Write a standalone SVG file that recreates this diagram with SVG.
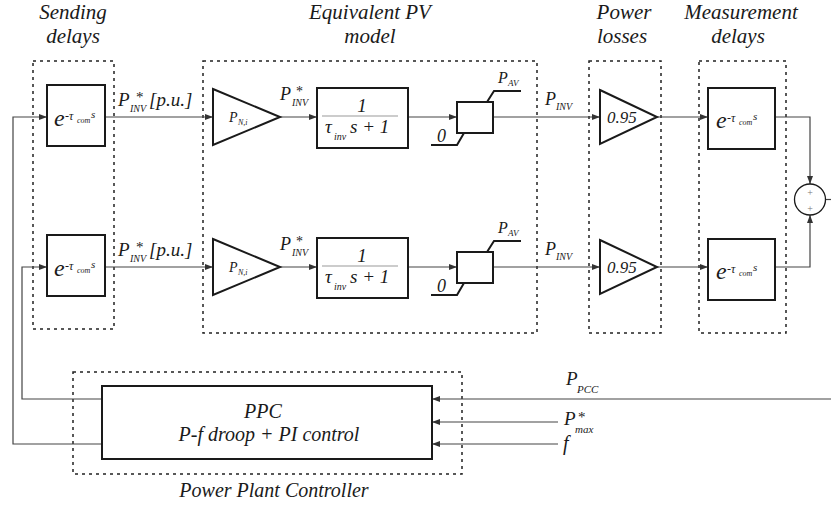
<svg xmlns="http://www.w3.org/2000/svg" width="831" height="512" viewBox="0 0 831 512" font-family="Liberation Serif, Times New Roman, serif">
<defs>
<marker id="arr" markerUnits="userSpaceOnUse" markerWidth="8" markerHeight="6" refX="8" refY="3" orient="auto">
<path d="M0,0 L8,3 L0,6 z" fill="#333"/>
</marker>
<style>
.blk{fill:#fff;stroke:#1a1a1a;stroke-width:2}
.grp{fill:none;stroke:#222;stroke-width:1.5;stroke-dasharray:3 4}
.wire{fill:none;stroke:#444;stroke-width:1.2}
.arw{marker-end:url(#arr)}
.frac{stroke:#999;stroke-width:1}
.t{font-style:italic;fill:#1a1a1a}
.up{font-style:normal;fill:#1a1a1a}
.ttl{font-size:21px;text-anchor:middle}
.pl{font-size:10px;fill:#777;text-anchor:middle}
</style>
</defs>
<rect width="831" height="512" fill="#fff"/>

<g id="groups">
<rect class="grp" x="33" y="61" width="81" height="268"/>
<rect class="grp" x="203" y="61" width="334" height="272"/>
<rect class="grp" x="589" y="61" width="72" height="272"/>
<rect class="grp" x="699" y="61" width="87" height="272"/>
<rect class="grp" x="73" y="372" width="389" height="102"/>
</g>

<g id="titles" class="t ttl" font-family="Liberation Serif, serif">
<text x="73" y="19">Sending</text>
<text x="73" y="43">delays</text>
<text x="370" y="19">Equivalent PV</text>
<text x="370" y="43">model</text>
<text x="624" y="19">Power</text>
<text x="622" y="43">losses</text>
<text x="741" y="19">Measurement</text>
<text x="738" y="43">delays</text>
<text x="274" y="497" font-size="20">Power Plant Controller</text>
</g>

<g id="connectors">
<path class="wire arw" d="M102,444 H13 V117 H47"/>
<path class="wire arw" d="M102,399 H22 V267 H47"/>
<path class="wire arw" d="M105,117 H213"/>
<path class="wire arw" d="M280,117 H317"/>
<path class="wire arw" d="M408,117 H457"/>
<path class="wire arw" d="M493,117 H600"/>
<path class="wire arw" d="M657,117 H708"/>
<path class="wire arw" d="M775,117 H810 V184"/>
<path class="wire arw" d="M105,267 H213"/>
<path class="wire arw" d="M280,267 H317"/>
<path class="wire arw" d="M408,267 H457"/>
<path class="wire arw" d="M493,267 H600"/>
<path class="wire arw" d="M657,267 H708"/>
<path class="wire arw" d="M775,267 H810 V215"/>
<path class="wire" d="M826,199.5 H831"/>
<path class="wire arw" d="M831,399 H432"/>
<path class="wire arw" d="M558,422 H432"/>
<path class="wire arw" d="M558,444 H432"/>
</g>

<g id="send1">
<rect class="blk" x="47" y="85" width="58" height="61"/>
<text class="t"><tspan x="54" y="126" font-size="24">e</tspan><tspan class="up" x="65" y="120" font-size="12">-</tspan><tspan x="69" y="120" font-size="12">τ</tspan><tspan x="77" y="123" font-size="8">com</tspan><tspan x="91" y="118" font-size="11">s</tspan></text>
</g>
<g id="send2">
<rect class="blk" x="47" y="235" width="58" height="61"/>
<text class="t"><tspan x="54" y="276" font-size="24">e</tspan><tspan class="up" x="65" y="270" font-size="12">-</tspan><tspan x="69" y="270" font-size="12">τ</tspan><tspan x="77" y="273" font-size="8">com</tspan><tspan x="91" y="268" font-size="11">s</tspan></text>
</g>

<g id="lbl-pu1" class="t">
<text><tspan x="118" y="106" font-size="19">P</tspan><tspan class="up" x="136" y="102" font-size="15">*</tspan><tspan x="130" y="112" font-size="10">INV</tspan><tspan x="149" y="106" font-size="19">[p.u.]</tspan></text>
</g>
<g id="lbl-pu2" class="t">
<text><tspan x="118" y="256" font-size="19">P</tspan><tspan class="up" x="136" y="252" font-size="15">*</tspan><tspan x="130" y="262" font-size="10">INV</tspan><tspan x="149" y="256" font-size="19">[p.u.]</tspan></text>
</g>

<g id="gain1">
<polygon class="blk" points="213,89 280,117 213,145"/>
<text class="t"><tspan x="229" y="122" font-size="14">P</tspan><tspan x="238" y="125" font-size="8">N,i</tspan></text>
</g>
<g id="gain2">
<polygon class="blk" points="213,239 280,267 213,295"/>
<text class="t"><tspan x="229" y="272" font-size="14">P</tspan><tspan x="238" y="275" font-size="8">N,i</tspan></text>
</g>

<g id="lbl-inv1" class="t">
<text><tspan x="280" y="100" font-size="18">P</tspan><tspan class="up" x="296" y="96" font-size="14">*</tspan><tspan x="292" y="106" font-size="10">INV</tspan></text>
</g>
<g id="lbl-inv2" class="t">
<text><tspan x="280" y="250" font-size="18">P</tspan><tspan class="up" x="296" y="246" font-size="14">*</tspan><tspan x="292" y="256" font-size="10">INV</tspan></text>
</g>

<g id="tf1">
<rect class="blk" x="317" y="88" width="91" height="60"/>
<line class="frac" x1="322" y1="116" x2="398" y2="116"/>
<text class="t" x="362" y="112" font-size="19" text-anchor="middle">1</text>
<text class="t"><tspan x="325" y="133" font-size="19">τ</tspan><tspan x="334" y="140" font-size="10">inv</tspan><tspan x="350" y="133" font-size="19">s + 1</tspan></text>
</g>
<g id="tf2">
<rect class="blk" x="317" y="238" width="91" height="60"/>
<line class="frac" x1="322" y1="266" x2="398" y2="266"/>
<text class="t" x="362" y="262" font-size="19" text-anchor="middle">1</text>
<text class="t"><tspan x="325" y="283" font-size="19">τ</tspan><tspan x="334" y="290" font-size="10">inv</tspan><tspan x="350" y="283" font-size="19">s + 1</tspan></text>
</g>

<g id="sat1">
<rect class="blk" x="457" y="102" width="36" height="31"/>
<polyline class="blk" style="fill:none" points="487,102 494,91 521,91"/>
<polyline class="blk" style="fill:none" points="464,133 457,145 431,145"/>
<text class="t"><tspan x="498" y="83" font-size="16">P</tspan><tspan x="508" y="86" font-size="9">AV</tspan></text>
<text class="t" x="437" y="142" font-size="18">0</text>
</g>
<g id="sat2">
<rect class="blk" x="457" y="252" width="36" height="31"/>
<polyline class="blk" style="fill:none" points="487,252 494,241 521,241"/>
<polyline class="blk" style="fill:none" points="464,283 457,295 431,295"/>
<text class="t"><tspan x="498" y="233" font-size="16">P</tspan><tspan x="508" y="236" font-size="9">AV</tspan></text>
<text class="t" x="437" y="292" font-size="18">0</text>
</g>

<g id="lbl-pinv" class="t">
<text><tspan x="545" y="105" font-size="18">P</tspan><tspan x="556" y="110" font-size="10">INV</tspan></text>
<text><tspan x="545" y="255" font-size="18">P</tspan><tspan x="556" y="260" font-size="10">INV</tspan></text>
</g>

<g id="loss1">
<polygon class="blk" points="600,90 657,117 600,144"/>
<text class="t" x="607" y="123" font-size="17">0.95</text>
</g>
<g id="loss2">
<polygon class="blk" points="600,240 657,267 600,294"/>
<text class="t" x="607" y="273" font-size="17">0.95</text>
</g>

<g id="meas1">
<rect class="blk" x="708" y="88" width="67" height="61"/>
<text class="t"><tspan x="716" y="128" font-size="24">e</tspan><tspan class="up" x="727" y="122" font-size="12">-</tspan><tspan x="731" y="122" font-size="12">τ</tspan><tspan x="739" y="125" font-size="8">com</tspan><tspan x="753" y="120" font-size="11">s</tspan></text>
</g>
<g id="meas2">
<rect class="blk" x="708" y="239" width="67" height="61"/>
<text class="t"><tspan x="716" y="279" font-size="24">e</tspan><tspan class="up" x="727" y="273" font-size="12">-</tspan><tspan x="731" y="273" font-size="12">τ</tspan><tspan x="739" y="276" font-size="8">com</tspan><tspan x="753" y="271" font-size="11">s</tspan></text>
</g>

<g id="sum">
<circle cx="810" cy="199.5" r="15.5" fill="#fff" stroke="#1a1a1a" stroke-width="1.3"/>
<text class="pl" x="810" y="196">+</text>
<text class="pl" x="810" y="211.5">+</text>
</g>

<g id="ppc">
<rect class="blk" x="102" y="386" width="330" height="73"/>
<text class="t" x="263" y="418" font-size="20" text-anchor="middle">PPC</text>
<text class="t" x="269" y="441" font-size="20" text-anchor="middle">P-f droop + PI control</text>
</g>

<g id="lbl-inputs" class="t">
<text><tspan x="566" y="385" font-size="19">P</tspan><tspan x="577" y="393" font-size="11">PCC</tspan></text>
<text><tspan x="564" y="425" font-size="19">P</tspan><tspan class="up" x="578" y="422" font-size="15">*</tspan><tspan x="575" y="433" font-size="11">max</tspan></text>
<text x="563" y="450" font-size="20">f</text>
</g>
</svg>
